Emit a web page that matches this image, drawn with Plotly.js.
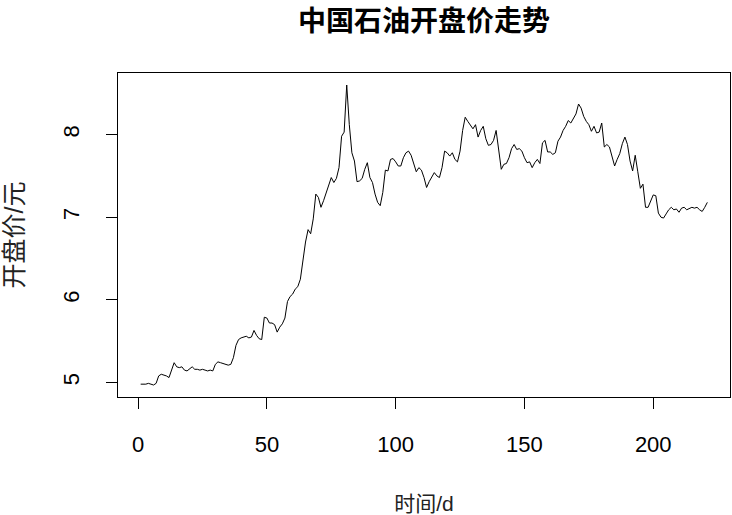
<!DOCTYPE html>
<html>
<head>
<meta charset="utf-8">
<script src="https://cdn.plot.ly/plotly-3.0.1.min.js"></script>
<style>html,body{margin:0;padding:0;background:#fff;}#chart{width:732px;height:515px;}</style>
</head>
<body>
<div id="chart"></div>
<script>
// 中国石油开盘价 (元), one value per day
const openPrice = [
  4.98, 4.98, 4.98, 4.99, 4.98, 4.97, 4.99, 5.08, 5.10, 5.09,
  5.08, 5.06, 5.15, 5.24, 5.19, 5.18, 5.19, 5.15, 5.14, 5.17,
  5.19, 5.16, 5.16, 5.15, 5.16, 5.15, 5.14, 5.15, 5.14, 5.22,
  5.25, 5.24, 5.23, 5.22, 5.21, 5.22, 5.30, 5.45, 5.52, 5.54,
  5.55, 5.56, 5.54, 5.55, 5.63, 5.57, 5.53, 5.52, 5.79, 5.78,
  5.72, 5.72, 5.70, 5.61, 5.67, 5.71, 5.78, 5.98, 6.04, 6.07,
  6.13, 6.16, 6.25, 6.50, 6.70, 6.85, 6.80, 6.98, 7.28, 7.24,
  7.12, 7.20, 7.30, 7.38, 7.48, 7.42, 7.47, 7.60, 7.98, 8.03,
  8.60, 8.12, 7.78, 7.68, 7.43, 7.44, 7.47, 7.58, 7.66, 7.48,
  7.42, 7.28, 7.18, 7.14, 7.30, 7.57, 7.56, 7.70, 7.71, 7.67,
  7.62, 7.62, 7.72, 7.78, 7.80, 7.75, 7.65, 7.55, 7.60, 7.57,
  7.48, 7.36, 7.43, 7.49, 7.54, 7.50, 7.48, 7.60, 7.80, 7.78,
  7.74, 7.78, 7.70, 7.67, 7.80, 8.05, 8.21, 8.16, 8.11, 8.07,
  8.12, 7.97, 8.05, 8.10, 7.95, 7.87, 7.88, 7.93, 8.05, 7.80,
  7.58, 7.64, 7.65, 7.72, 7.83, 7.88, 7.82, 7.83, 7.80, 7.72,
  7.66, 7.67, 7.60, 7.66, 7.70, 7.65, 7.90, 7.93, 7.79, 7.79,
  7.76, 7.78, 7.92, 7.97, 8.05, 8.10, 8.17, 8.14, 8.20, 8.25,
  8.37, 8.32, 8.22, 8.16, 8.12, 8.04, 8.10, 8.02, 8.03, 8.14,
  7.85, 7.88, 7.85, 7.73, 7.62, 7.70, 7.77, 7.89, 7.97, 7.88,
  7.68, 7.56, 7.75, 7.55, 7.35, 7.40, 7.12, 7.12, 7.20, 7.27,
  7.26, 7.05, 7.00, 6.99, 7.04, 7.09, 7.12, 7.09, 7.10, 7.06,
  7.11, 7.12, 7.09, 7.11, 7.12, 7.11, 7.12, 7.09, 7.07, 7.12,
  7.18
];
const days = openPrice.map((_, i) => i + 1);
const xTicks = [0, 50, 100, 150, 200];
const yTicks = [5, 6, 7, 8];
const chartTitle = '中国石油开盘价走势';
const xTitle = '时间/d';
const yTitle = '开盘价/元';

// R-style 4% axis extension
function ext(arr) {
  const lo = Math.min(...arr), hi = Math.max(...arr), d = (hi - lo) * 0.04;
  return [lo - d, hi + d];
}

const tickFont = {family: 'Liberation Sans, Arial, sans-serif', size: 22, color: '#000'};
const labFont = 'Liberation Sans, "Noto Sans CJK SC", sans-serif';

const trace = {
  x: days, y: openPrice, type: 'scatter', mode: 'lines',
  line: {color: '#000', width: 1}, hoverinfo: 'skip'
};

const layout = {
  width: 732, height: 515,
  margin: {l: 118, r: 2, t: 73, b: 118},
  paper_bgcolor: '#fff', plot_bgcolor: '#fff',
  showlegend: false,
  title: {
    text: '<b>' + chartTitle + '</b>',
    font: {family: '"Noto Sans CJK SC", sans-serif', size: 28, color: '#000'},
    x: 0.5, xref: 'paper', xanchor: 'center',
    y: 1 - 21 / 515, yref: 'container', yanchor: 'middle'
  },
  xaxis: {
    range: ext(days), tickvals: xTicks, ticktext: xTicks.map(String),
    showgrid: false, zeroline: false,
    showline: true, mirror: true, linecolor: '#000', linewidth: 1,
    ticks: 'outside', ticklen: 11, tickwidth: 1, tickcolor: '#000',
    tickfont: tickFont, ticklabelstandoff: 17,
    title: {text: xTitle, font: {family: labFont, size: 21, color: '#222'}, standoff: 44}
  },
  yaxis: {
    range: ext(openPrice), tickvals: yTicks, ticktext: yTicks.map(String),
    showgrid: false, zeroline: false,
    showline: true, mirror: true, linecolor: '#000', linewidth: 1,
    ticks: 'outside', ticklen: 11, tickwidth: 1, tickcolor: '#000',
    tickfont: tickFont, tickangle: -90, ticklabelstandoff: 18,
    title: {text: yTitle, font: {family: labFont, size: 25, color: '#222'}, standoff: 28}
  }
};

Plotly.newPlot('chart', [trace], layout, {staticPlot: true, displayModeBar: false});
</script>
</body>
</html>
